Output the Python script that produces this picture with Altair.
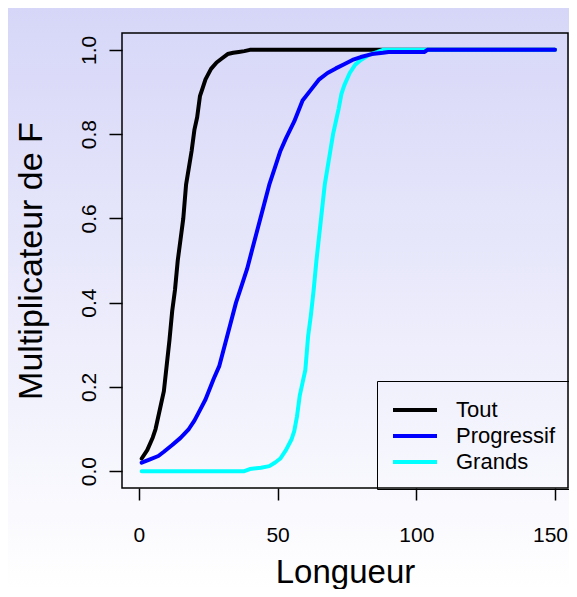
import altair as alt
import pandas as pd

# ---- data ----
series_names = ["Tout", "Progressif", "Grands"]
series_colors = ["#000000", "#0000ff", "#00ffff"]

tout_L = [1, 3, 5, 6, 8, 9, 10, 11, 12, 13, 14, 15, 16, 17, 18, 19, 20, 21, 22, 23, 24,
          26, 28, 30, 32, 34, 36, 38, 40, 150]
tout_v = [0.03, 0.05, 0.08, 0.10, 0.16, 0.19, 0.25, 0.31, 0.38, 0.43, 0.50, 0.55, 0.60, 0.68,
          0.72, 0.76, 0.81, 0.84, 0.89, 0.91, 0.93, 0.955, 0.97, 0.98, 0.99, 0.993, 0.995,
          0.997, 1.0, 1.0]

prog_L = [1, 4, 7, 9, 12, 15, 18, 20, 22, 24, 27, 29, 31, 33, 35, 37, 39, 41, 43, 45, 47, 49,
          51, 53, 56, 59, 62, 65, 68, 71, 74, 77, 80, 84, 88, 90, 103, 104, 150]
prog_v = [0.02, 0.028, 0.036, 0.046, 0.062, 0.079, 0.10, 0.12, 0.145, 0.17, 0.22, 0.25, 0.30,
          0.35, 0.40, 0.44, 0.48, 0.53, 0.58, 0.63, 0.68, 0.72, 0.76, 0.79, 0.83, 0.88, 0.905,
          0.93, 0.945, 0.956, 0.966, 0.976, 0.983, 0.99, 0.993, 0.995, 0.995, 1.0, 1.0]

grands_L = [1, 38, 40, 44, 47, 49, 51, 53, 55, 56, 57, 58, 59, 60, 61, 62, 63, 64, 65, 66, 67,
            68, 69, 70, 71, 72, 73, 74, 76, 78, 80, 83, 86, 88, 150]
grands_v = [0.0, 0.0, 0.005, 0.008, 0.012, 0.02, 0.03, 0.05, 0.075, 0.095, 0.13, 0.18, 0.21,
            0.24, 0.32, 0.37, 0.43, 0.50, 0.56, 0.62, 0.68, 0.72, 0.76, 0.80, 0.83, 0.86, 0.895,
            0.915, 0.945, 0.965, 0.976, 0.988, 0.995, 1.0, 1.0]

x_ticks = [0, 50, 100, 150]
y_ticks = [0.0, 0.2, 0.4, 0.6, 0.8, 1.0]

x_title = "Longueur"
y_title = "Multiplicateur de F"

# ---- build table ----
rows = []
for name, Ls, vs in [("Tout", tout_L, tout_v), ("Progressif", prog_L, prog_v),
                     ("Grands", grands_L, grands_v)]:
    for i, (l, v) in enumerate(zip(Ls, vs)):
        rows.append({"serie": name, "L": l, "v": v, "i": i})
df = pd.DataFrame(rows)

W, H = 446, 455
PAD = {"left": 114, "top": 25, "right": 1, "bottom": 101}
FONT = "Liberation Sans"

xscale = alt.Scale(domain=[-6.1, 154.7], nice=False, zero=False)
yscale = alt.Scale(domain=[-0.04, 1.04], nice=False, zero=False)

xaxis = alt.Axis(values=x_ticks, title=x_title, grid=False, domain=False, zindex=2,
                 tickSize=12, tickWidth=1.5, tickColor="black",
                 labelFontSize=21, labelPadding=24, labelColor="black", labelFont=FONT,
                 labelBaseline="top", labelFlush=False,
                 labelOffset={"condition": {"test": "datum.value == 150", "value": -5},
                              "value": 0},
                 titleFontSize=33, titleFont=FONT, titleFontWeight="normal", titleColor="black",
                 titleX=W / 2, titleY=94, titleBaseline="alphabetic", titleAlign="center")
yaxis = alt.Axis(values=y_ticks, format=".1f", title=y_title, grid=False, domain=False, zindex=2,
                 tickSize=13, tickWidth=1.5, tickColor="black",
                 labelFontSize=21, labelPadding=14, labelColor="black", labelFont=FONT,
                 labelAngle=-90, labelAlign="center", labelBaseline="alphabetic",
                 labelFlush=False,
                 titleFontSize=34, titleFont=FONT, titleFontWeight="normal", titleColor="black",
                 titleAngle=-90, titleX=-81, titleY=H / 2, titleBaseline="alphabetic",
                 titleAlign="center")

legend = alt.Legend(orient="none", legendX=255, legendY=348, title=None,
                    padding=16, strokeColor="black",
                    symbolType="M-2,0H2", symbolSize=484, symbolStrokeWidth=4,
                    symbolOffset=9, labelOffset=28,
                    labelFontSize=22, labelFont=FONT, labelColor="black", rowPadding=2)

color = alt.Color("serie:N", scale=alt.Scale(domain=series_names, range=series_colors),
                  legend=legend)

bg = alt.Chart(pd.DataFrame({"a": [0]})).mark_rect(
    color=alt.LinearGradient(
        gradient="linear", x1=0, x2=0, y1=0, y2=1,
        stops=[alt.GradientStop(color="#d6d6f8", offset=0),
               alt.GradientStop(color="#ffffff", offset=1)])
).encode(x=alt.value(-PAD["left"]), x2=alt.value(W + PAD["right"]),
         y=alt.value(-PAD["top"]), y2=alt.value(H + PAD["bottom"]))


def line(name):
    return alt.Chart(df).transform_filter(alt.datum.serie == name).mark_line(
        strokeWidth=4, strokeCap="round", strokeJoin="round"
    ).encode(
        x=alt.X("L:Q", scale=xscale, axis=xaxis),
        y=alt.Y("v:Q", scale=yscale, axis=yaxis),
        color=color,
        order="i:Q",
    )


box = alt.Chart(pd.DataFrame({"a": [0]})).mark_rect(
    fillOpacity=0, stroke="black", strokeWidth=1.5
).encode(x=alt.value(0), x2=alt.value(W), y=alt.value(0), y2=alt.value(H))

chart = alt.layer(bg, line("Tout"), line("Grands"), line("Progressif"), box).properties(
    width=W, height=H,
    autosize=alt.AutoSizeParams(type="none"),
    padding=PAD,
).configure_view(stroke=None).configure_legend(strokeWidth=1.5).configure(background="white")

chart.save("out.html", embed_options={"renderer": "svg", "actions": False})
